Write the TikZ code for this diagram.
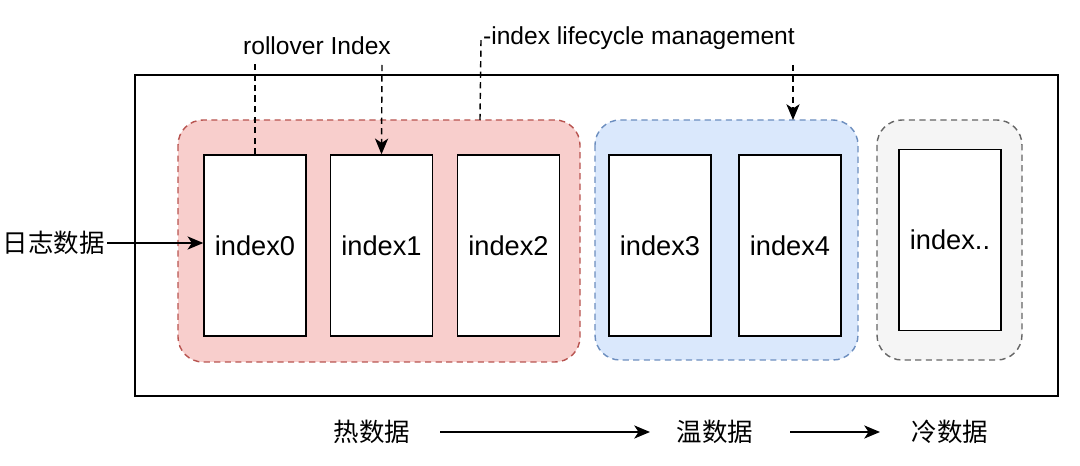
\documentclass[tikz,border=0pt]{standalone}
\usepackage{fontspec}
\setmainfont{Liberation Sans}
\newfontfamily\cjk{Noto Sans CJK SC}
\usetikzlibrary{arrows.meta}
\usetikzlibrary{positioning}
\definecolor{hotfill}{HTML}{F8CECC}
\definecolor{hotline}{HTML}{B85450}
\definecolor{warmfill}{HTML}{DAE8FC}
\definecolor{warmline}{HTML}{6C8EBF}
\definecolor{coldfill}{HTML}{F5F5F5}
\definecolor{coldline}{HTML}{666666}
\tikzset{idx/.style = {draw, thick, fill = white, minimum width = 2.04cm, minimum height = 3.62cm, inner sep = 0, font = \fontsize{15.5}{18}\selectfont}}
\tikzset{dsh/.style = {dash pattern = on 3.5pt off 2.5pt}}
\tikzset{grp/.style = {draw, thick, dsh, rounded corners = 0.5cm}}
\tikzset{lbl/.style = {inner sep = 1pt, font = \fontsize{14}{17}\selectfont}}
\tikzset{zh/.style = {inner sep = 1pt, font = \cjk\fontsize{14.5}{17}\selectfont}}
\tikzset{tip/.style = {-{Stealth[length = 9pt, width = 7.5pt, inset = 2.5pt]}, thick}}

\begin{document}
\begin{tikzpicture}[x = 0.02cm, y = -0.02cm]
      \useasboundingbox (0, 0) rectangle (1080, 466);
      \draw [thick] (135, 75) rectangle (1058, 396);
      % groups
      \draw [grp, draw = hotline, fill = hotfill] (178, 120) rectangle (580, 362);
      \draw [grp, draw = warmline, fill = warmfill] (595, 120) rectangle (858, 360);
      \draw [grp, draw = coldline, fill = coldfill] (877, 120) rectangle (1022, 360);
      \coordinate (hot) at (480, 120);
      \coordinate (warm) at (793, 120);
      % indices
      \node [idx] (i0) at (255, 245.5) {index0};
      \node [idx] (i1) at (381.5, 245.5) {index1};
      \node [idx] (i2) at (508.5, 245.5) {index2};
      \node [idx] (i3) at (660, 245.5) {index3};
      \node [idx] (i4) at (790, 245.5) {index4};
      \node [idx] (i5) at (950, 240) {index..};
      % labels
      \node [lbl] (roll) at (317, 46) {rollover Index};
      \node [lbl, anchor = west] (ilm) at (481, 38) {-index lifecycle management};
      \node [zh, anchor = east] (log) at (107, 243) {日志数据};
      \draw [tip] (log.east) -- (log.east -| i0.west);
      \draw [thick, dsh] (i0.north) -- (255, 60);
      \draw [tip, dsh] (382, 65) -- (i1.north);
      \draw [thick, dsh] (hot) -- (481, 40);
      \draw [tip, dsh] (793, 65) -- (warm);
      % bottom
      \node [zh] (t1) at (372, 432) {热数据};
      \node [zh] (t2) at (715, 432) {温数据};
      \node [zh] (t3) at (950, 432) {冷数据};
      \draw [tip] (440, 432) -- (650, 432);
      \draw [tip] (790, 432) -- (880, 432);
    \end{tikzpicture}
\end{document}
